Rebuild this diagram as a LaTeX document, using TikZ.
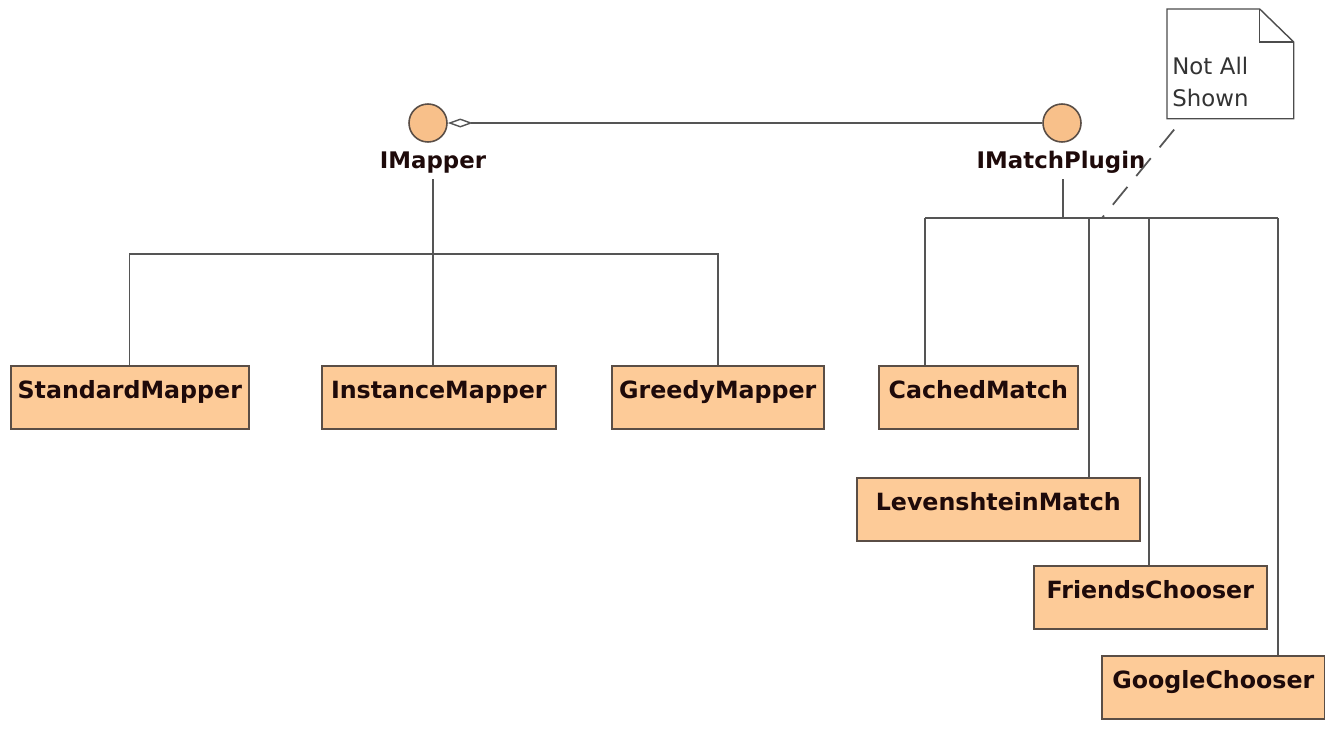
\documentclass[tikz,border=0pt]{standalone}
\usepackage{fontspec}
\setmainfont{DejaVu Sans}
\newfontfamily\clsfont{DejaVu Sans}
\usetikzlibrary{arrows.meta}
\definecolor{boxfill}{HTML}{FDCB98}
\definecolor{circfill}{HTML}{F8C08A}
\definecolor{edgegray}{HTML}{555555}
\definecolor{boxline}{HTML}{5A4E46}
\definecolor{clstext}{HTML}{1E0A0A}
\newcommand\pxu{0.02cm}

\tikzset{
	cls/.style={draw=boxline, fill=boxfill, line width=0.9pt, anchor=north west,
		inner xsep=0pt, inner ysep=0pt, minimum height=63*\pxu,
		text height=33*\pxu, text depth=30*\pxu,
		font=\clsfont\bfseries\fontsize{13.5}{16}\selectfont, text=clstext},
	iface/.style={circle, draw=boxline, fill=circfill, line width=0.9pt,
		minimum size=38*\pxu, inner sep=0pt},
	ifacelbl/.style={anchor=base, inner sep=3.5pt,
		font=\clsfont\bfseries\fontsize{13}{16}\selectfont, text=clstext},
	conn/.style={draw=edgegray, line width=0.8pt},
	notebox/.style={anchor=north west, minimum width=126*\pxu, minimum height=109*\pxu,
		inner xsep=5*\pxu, inner ysep=0pt, text width=116*\pxu, align=left,
		text height=65*\pxu, text depth=44*\pxu,
		font=\fontsize{13}{18.1}\selectfont, text=black!80},
	notefrm/.style={draw=black!70, line width=0.8pt}
}

\begin{document}
\begin{tikzpicture}[x=0.02cm, y=-0.02cm]
	\useasboundingbox (0,0) rectangle (1325,734);

	%%%%% interfaces %%%%%
	\node[iface] (mapcirc) at (428,123) {};
	\node[iface] (matchcirc) at (1062,123) {};
	\node[ifacelbl] (maplbl) at (433,168) {IMapper};
	\node[ifacelbl] (matchlbl) at (1061,168) {IMatchPlugin};

	\draw[conn, -{Diamond[open, length=0.5cm, width=0.18cm, fill=white]}] (matchcirc) -- (mapcirc);

	%%%%% mappers %%%%%
	\node[cls, minimum width=238*\pxu] (standard) at (10,365) {StandardMapper};
	\node[cls, minimum width=234*\pxu] (instance) at (321,365) {InstanceMapper};
	\node[cls, minimum width=212*\pxu] (greedy) at (611,365) {GreedyMapper};

	\coordinate (mapbus) at (433,254);
	\draw[conn] (maplbl.south -| mapbus) -- (mapbus |- instance.north);
	\draw[conn] (standard.north) |- (mapbus) -| (greedy.north);

	%%%%% match plugins %%%%%
	\node[cls, minimum width=199*\pxu] (cached) at (878,365) {CachedMatch};
	\node[cls, minimum width=283*\pxu] (leven) at (856,477) {LevenshteinMatch};
	\node[cls, minimum width=233*\pxu] (friends) at (1033,565) {FriendsChooser};
	\node[cls, minimum width=223*\pxu] (google) at (1101,655) {GoogleChooser};

	\coordinate (matchbus) at (1063,218);
	\coordinate (cachedtap) at (925,218);
	\coordinate (leventap) at (1089,218);
	\coordinate (friendstap) at (1149,218);
	\coordinate (googletap) at (1278,218);
	\draw[conn] (matchlbl.south -| matchbus) -- (matchbus);
	\draw[conn] (cachedtap) -- (googletap);
	\foreach \t/\b in {cachedtap/cached, leventap/leven, friendstap/friends, googletap/google}
		\draw[conn] (\t) -- (\t |- \b.north);

	%%%%% note %%%%%
	\node[notebox] (note) at (1167,9) {Not All\\Shown};
	\draw[notefrm] (note.north west) -- ([xshift=-34*\pxu]note.north east)
		-- ([yshift=-33*\pxu]note.north east) -- (note.south east)
		-- (note.south west) -- cycle;
	\draw[notefrm] ([xshift=-34*\pxu]note.north east) |- ([yshift=-33*\pxu]note.north east);

	\coordinate (notetap) at (1102,218);
	\draw[conn, line width=1pt, dash pattern=on 0.46cm off 0.28cm, dash phase=0.46cm]
		([xshift=16*\pxu]note.south west) -- (notetap);
\end{tikzpicture}
\end{document}
